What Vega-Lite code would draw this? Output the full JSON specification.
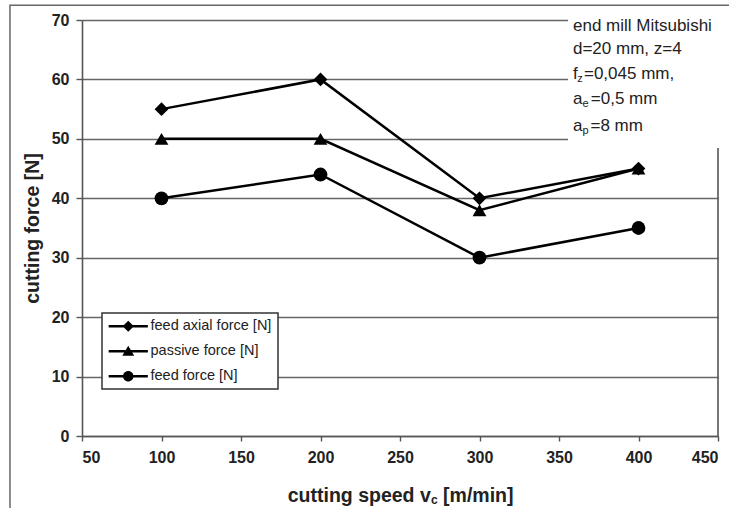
{
  "$schema": "https://vega.github.io/schema/vega-lite/v6.json",
  "width": 636,
  "height": 416,
  "autosize": {"type": "none"},
  "padding": {"left": 82, "top": 20, "right": 11, "bottom": 72},
  "background": "white",
  "config": {
    "view": {"stroke": null},
    "font": "Liberation Sans",
    "axis": {
      "labelFont": "Liberation Sans",
      "labelFontWeight": "bold",
      "labelFontSize": 16,
      "labelColor": "#222",
      "titleFont": "Liberation Sans",
      "titleFontWeight": "bold",
      "titleFontSize": 19.5,
      "titleColor": "#222",
      "domainColor": "#555",
      "domainWidth": 1.6,
      "tickColor": "#555",
      "tickWidth": 1.4,
      "gridColor": "#666",
      "gridWidth": 1.6,
      "gridOpacity": 1
    },
    "legend": {"strokeWidth": 1.5}
  },
  "datasets": {
    "series": [
      {"speed": 100, "force": 55, "series": "feed axial force [N]"},
      {"speed": 200, "force": 60, "series": "feed axial force [N]"},
      {"speed": 300, "force": 40, "series": "feed axial force [N]"},
      {"speed": 400, "force": 45, "series": "feed axial force [N]"},
      {"speed": 100, "force": 50, "series": "passive force [N]"},
      {"speed": 200, "force": 50, "series": "passive force [N]"},
      {"speed": 300, "force": 38, "series": "passive force [N]"},
      {"speed": 400, "force": 45, "series": "passive force [N]"},
      {"speed": 100, "force": 40, "series": "feed force [N]"},
      {"speed": 200, "force": 44, "series": "feed force [N]"},
      {"speed": 300, "force": 30, "series": "feed force [N]"},
      {"speed": 400, "force": 35, "series": "feed force [N]"}
    ],
    "notes": [
      {"text": "end mill Mitsubishi", "x": 358.8, "y": 68.99},
      {"text": "d=20 mm, z=4", "x": 358.8, "y": 65.12},
      {"text": "f", "x": 358.8, "y": 60.91},
      {"text": "=0,045 mm,", "x": 365.7, "y": 60.91},
      {"text": "a", "x": 358.8, "y": 56.71},
      {"text": "=0,5 mm", "x": 370.0, "y": 56.71},
      {"text": "a", "x": 358.8, "y": 52.16},
      {"text": "=8 mm", "x": 369.8, "y": 52.16}
    ],
    "subs": [
      {"text": "z", "x": 361.5, "y": 60.91},
      {"text": "e", "x": 364.8, "y": 56.71},
      {"text": "p", "x": 364.8, "y": 52.16}
    ],
    "xtitle": [
      {"text": "cutting speed v", "x": 179.4, "y": -10.09},
      {"text": "[m/min]", "x": 277.1, "y": -10.09}
    ],
    "xtitlesub": [
      {"text": "c", "x": 269.5, "y": -10.77}
    ]
  },
  "layer": [
    {
      "data": {"values": [{}]},
      "mark": {"type": "rect", "filled": false, "stroke": "#666", "strokeWidth": 1.5},
      "encoding": {
        "x": {"datum": 4.7, "type": "quantitative", "scale": {"domain": [50, 450], "nice": false, "zero": false}},
        "x2": {"datum": 480},
        "y": {"datum": -20, "type": "quantitative", "scale": {"domain": [0, 70], "nice": false, "zero": false}},
        "y2": {"datum": 72.5}
      }
    },
    {
      "data": {"name": "series"},
      "mark": {"type": "line", "color": "black", "strokeWidth": 2.5},
      "encoding": {
        "x": {
          "field": "speed", "type": "quantitative",
          "scale": {"domain": [50, 450], "nice": false, "zero": false},
          "axis": {
            "values": [50, 100, 150, 200, 250, 300, 350, 400, 450],
            "grid": false,
            "tickSize": 5,
            "labelPadding": 8,
            "title": null
          }
        },
        "y": {
          "field": "force", "type": "quantitative",
          "scale": {"domain": [0, 70], "nice": false, "zero": false},
          "axis": {
            "values": [0, 10, 20, 30, 40, 50, 60, 70],
            "grid": true,
            "tickSize": 6,
            "labelPadding": 7,
            "title": "cutting force [N]",
            "titlePadding": 9
          }
        },
        "detail": {"field": "series"}
      }
    },
    {
      "data": {"name": "series"},
      "mark": {"type": "point", "filled": true, "color": "black", "opacity": 1, "size": 190},
      "encoding": {
        "x": {"field": "speed", "type": "quantitative"},
        "y": {"field": "force", "type": "quantitative"},
        "shape": {
          "field": "series", "type": "nominal",
          "scale": {"domain": ["feed axial force [N]", "passive force [N]", "feed force [N]"], "range": ["diamond", "triangle-up", "circle"]},
          "legend": null
        }
      }
    },
    {
      "data": {"name": "series"},
      "transform": [{"filter": "false"}],
      "mark": {"type": "point", "filled": true, "color": "black", "opacity": 1, "size": 196},
      "encoding": {
        "x": {"field": "speed", "type": "quantitative"},
        "y": {"field": "force", "type": "quantitative"},
        "shape": {
          "field": "series", "type": "nominal",
          "scale": {
            "domain": ["feed axial force [N]", "passive force [N]", "feed force [N]"],
            "range": [
              "M-2.8,-0.18H2.8V0.18H-2.8ZM-0.8,0L0,-0.8L0.8,0L0,0.8Z",
              "M-2.8,-0.18H2.8V0.18H-2.8ZM0,-0.8L0.85,0.65L-0.85,0.65Z",
              "M-2.8,-0.18H2.8V0.18H-2.8ZM-0.75,0A0.75,0.75,0,1,1,0.75,0A0.75,0.75,0,1,1,-0.75,0Z"
            ]
          },
          "legend": {
            "title": null,
            "orient": "none",
            "legendX": 20,
            "legendY": 293,
            "strokeColor": "#333",
            "fillColor": "white",
            "padding": 6,
            "rowPadding": 10,
            "labelFont": "Liberation Sans",
            "labelFontSize": 14.5,
            "labelColor": "#222",
            "symbolOffset": 13,
            "labelOffset": 15,
            "symbolSize": 196,
            "symbolFillColor": "black",
            "symbolStrokeColor": "black",
            "symbolStrokeWidth": 0,
            "symbolOpacity": 1
          }
        }
      }
    },
    {
      "data": {"values": [{}]},
      "mark": {"type": "rect", "fill": "white", "stroke": null},
      "encoding": {
        "x": {"datum": 355.7, "type": "quantitative"},
        "x2": {"datum": 470},
        "y": {"datum": 48.5, "type": "quantitative"},
        "y2": {"datum": 71.2}
      }
    },
    {
      "data": {"values": [{}]},
      "mark": {"type": "rule", "color": "#555", "strokeWidth": 1.6},
      "encoding": {
        "x": {"datum": 450, "type": "quantitative"},
        "y": {"datum": 0, "type": "quantitative"},
        "y2": {"datum": 48.46}
      }
    },
    {
      "data": {"name": "notes"},
      "mark": {"type": "text", "align": "left", "baseline": "middle", "font": "Liberation Sans", "fontSize": 17, "color": "#222"},
      "encoding": {
        "x": {"field": "x", "type": "quantitative"},
        "y": {"field": "y", "type": "quantitative"},
        "text": {"field": "text"}
      }
    },
    {
      "data": {"name": "subs"},
      "mark": {"type": "text", "align": "left", "baseline": "middle", "font": "Liberation Sans", "fontSize": 11, "dy": 5, "color": "#222"},
      "encoding": {
        "x": {"field": "x", "type": "quantitative"},
        "y": {"field": "y", "type": "quantitative"},
        "text": {"field": "text"}
      }
    },
    {
      "data": {"name": "xtitle"},
      "mark": {"type": "text", "align": "left", "baseline": "middle", "font": "Liberation Sans", "fontWeight": "bold", "fontSize": 19.5, "color": "#222"},
      "encoding": {
        "x": {"field": "x", "type": "quantitative"},
        "y": {"field": "y", "type": "quantitative"},
        "text": {"field": "text"}
      }
    },
    {
      "data": {"name": "xtitlesub"},
      "mark": {"type": "text", "align": "left", "baseline": "middle", "font": "Liberation Sans", "fontWeight": "bold", "fontSize": 12, "color": "#222"},
      "encoding": {
        "x": {"field": "x", "type": "quantitative"},
        "y": {"field": "y", "type": "quantitative"},
        "text": {"field": "text"}
      }
    }
  ],
  "resolve": {"scale": {"shape": "independent"}}
}
